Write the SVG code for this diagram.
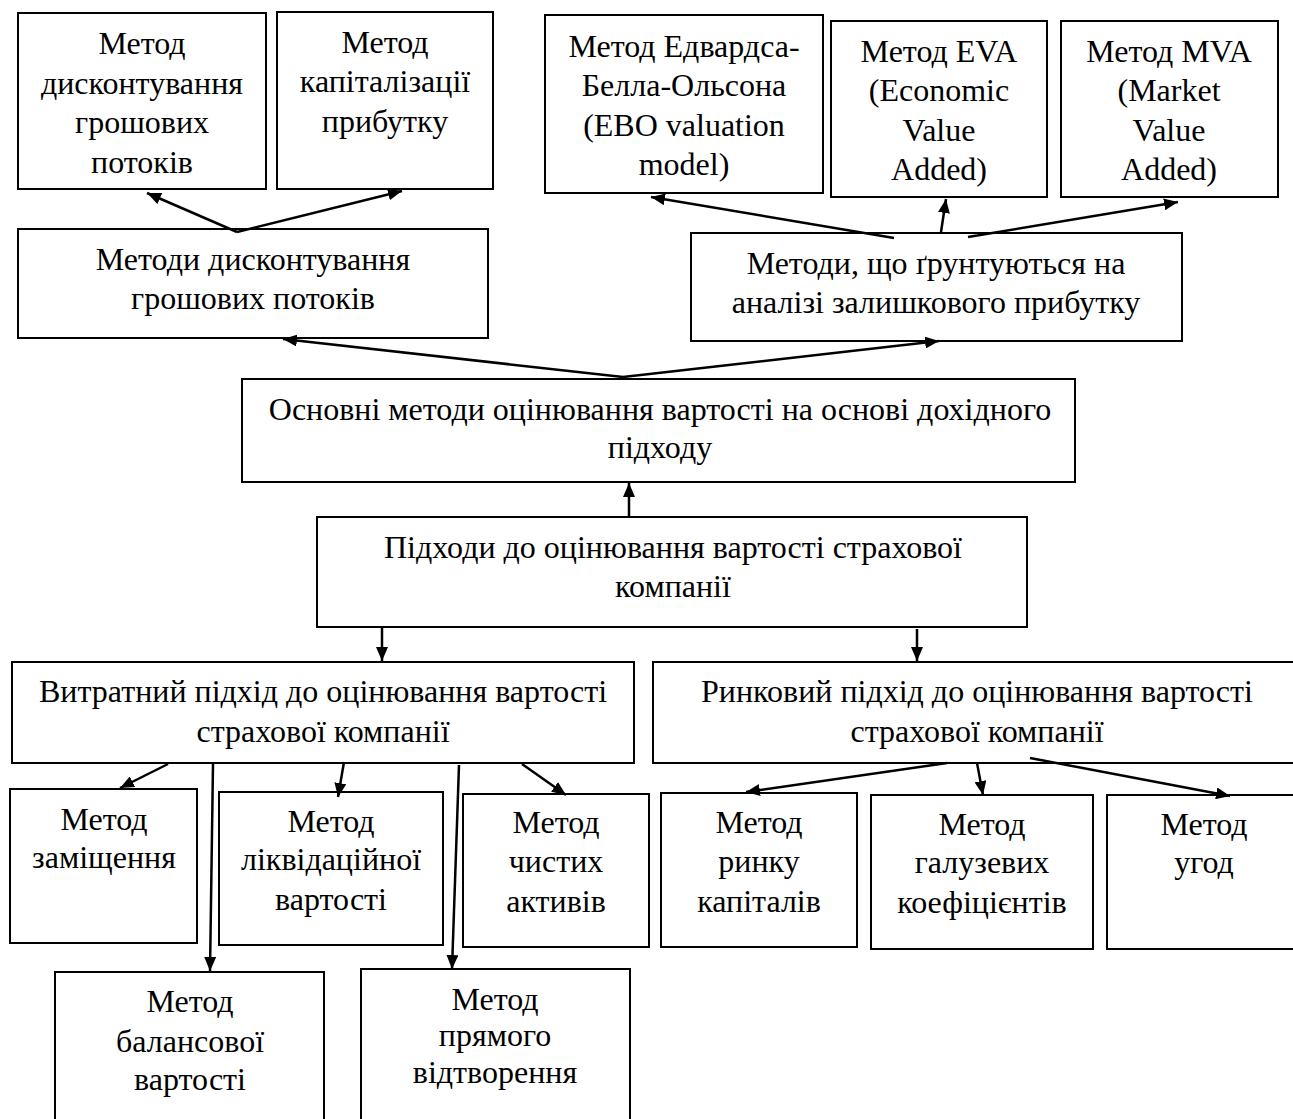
<svg xmlns="http://www.w3.org/2000/svg" width="1293" height="1119" viewBox="0 0 1293 1119">
<defs>
<marker id="ah" viewBox="0 0 14 12" refX="14" refY="6" markerWidth="14" markerHeight="12" markerUnits="userSpaceOnUse" orient="auto">
<path d="M0,0 L14,6 L0,12 z" fill="#000"/>
</marker>
<style>
rect{fill:#fff;stroke:#000;stroke-width:2}
text{font-family:'Liberation Serif','Times New Roman',serif;font-size:32px;fill:#000;text-anchor:middle}
.c line{stroke:#000;stroke-width:2.5;marker-end:url(#ah)}
</style>
</defs>
<rect x="0" y="0" width="1293" height="1119" style="stroke:none"/>
<g id="n-dcf"><rect x="18" y="13" width="248" height="176"/><text x="142" y="54">Метод</text><text x="142" y="94">дисконтування</text><text x="142" y="133">грошових</text><text x="142" y="173">потоків</text></g>
<g id="n-cap"><rect x="277" y="12" width="216" height="177"/><text x="385" y="53">Метод</text><text x="385" y="92">капіталізації</text><text x="385" y="132">прибутку</text></g>
<g id="n-dcfm"><rect x="18" y="229" width="470" height="109"/><text x="253" y="270">Методи дисконтування</text><text x="253" y="309">грошових потоків</text></g>
<g id="n-ebo"><rect x="545" y="15" width="278" height="178"/><text x="684" y="57">Метод Едвардса-</text><text x="684" y="96">Белла-Ольсона</text><text x="684" y="136">(EBO valuation</text><text x="684" y="175">model)</text></g>
<g id="n-eva"><rect x="831" y="21" width="216" height="176"/><text x="939" y="62">Метод EVA</text><text x="939" y="101">(Economic</text><text x="939" y="141">Value</text><text x="939" y="180">Added)</text></g>
<g id="n-mva"><rect x="1061" y="21" width="217" height="176"/><text x="1169" y="62">Метод MVA</text><text x="1169" y="101">(Market</text><text x="1169" y="141">Value</text><text x="1169" y="180">Added)</text></g>
<g id="n-resid"><rect x="691" y="233" width="491" height="108"/><text x="936" y="274">Методи, що ґрунтуються на</text><text x="936" y="313">аналізі залишкового прибутку</text></g>
<g id="n-income"><rect x="242" y="379" width="833" height="103"/><text x="660" y="420">Основні методи оцінювання вартості на основі дохідного</text><text x="660" y="458">підходу</text></g>
<g id="n-appr"><rect x="317" y="517" width="710" height="110"/><text x="673" y="558">Підходи до оцінювання вартості страхової</text><text x="673" y="597">компанії</text></g>
<g id="n-cost"><rect x="12" y="662" width="622" height="101"/><text x="323" y="702">Витратний підхід до оцінювання вартості</text><text x="323" y="742">страхової компанії</text></g>
<g id="n-market"><rect x="653" y="662" width="648" height="101"/><text x="977" y="702">Ринковий підхід до оцінювання вартості</text><text x="977" y="742">страхової компанії</text></g>
<g id="n-repl"><rect x="10" y="789" width="187" height="154"/><text x="104" y="830">Метод</text><text x="104" y="868">заміщення</text></g>
<g id="n-liq"><rect x="219" y="792" width="224" height="153"/><text x="331" y="832">Метод</text><text x="331" y="870">ліквідаційної</text><text x="331" y="910">вартості</text></g>
<g id="n-net"><rect x="463" y="794" width="186" height="153"/><text x="556" y="833">Метод</text><text x="556" y="872">чистих</text><text x="556" y="912">активів</text></g>
<g id="n-book"><rect x="55" y="972" width="269" height="160"/><text x="190" y="1012">Метод</text><text x="190" y="1052">балансової</text><text x="190" y="1090">вартості</text></g>
<g id="n-direct"><rect x="361" y="969" width="269" height="160"/><text x="495" y="1010">Метод</text><text x="495" y="1046">прямого</text><text x="495" y="1083">відтворення</text></g>
<g id="n-capm"><rect x="661" y="793" width="196" height="154"/><text x="759" y="833">Метод</text><text x="759" y="872">ринку</text><text x="759" y="912">капіталів</text></g>
<g id="n-ind"><rect x="871" y="795" width="222" height="154"/><text x="982" y="835">Метод</text><text x="982" y="873">галузевих</text><text x="982" y="913">коефіцієнтів</text></g>
<g id="n-deal"><rect x="1107" y="795" width="200" height="154"/><text x="1204" y="835">Метод</text><text x="1204" y="873">угод</text></g>
<g id="connectors" class="c">
<line x1="237" y1="232" x2="147" y2="193"/>
<line x1="237" y1="232" x2="402" y2="191"/>
<line x1="894" y1="238" x2="651" y2="197"/>
<line x1="941" y1="232" x2="946" y2="199"/>
<line x1="968" y1="237" x2="1178" y2="202"/>
<line x1="623" y1="377" x2="283" y2="339"/>
<line x1="623" y1="377" x2="939" y2="341"/>
<line x1="629" y1="518" x2="629" y2="483"/>
<line x1="382" y1="627" x2="382" y2="661"/>
<line x1="917" y1="629" x2="917" y2="661"/>
<line x1="168" y1="764" x2="120" y2="788"/>
<line x1="213" y1="764" x2="210" y2="971"/>
<line x1="344" y1="762" x2="338" y2="797"/>
<line x1="459" y1="765" x2="452" y2="969"/>
<line x1="522" y1="764" x2="566" y2="795"/>
<line x1="947" y1="763" x2="746" y2="792"/>
<line x1="977" y1="763" x2="983" y2="795"/>
<line x1="1030" y1="758" x2="1230" y2="796"/>
</g>
</svg>
